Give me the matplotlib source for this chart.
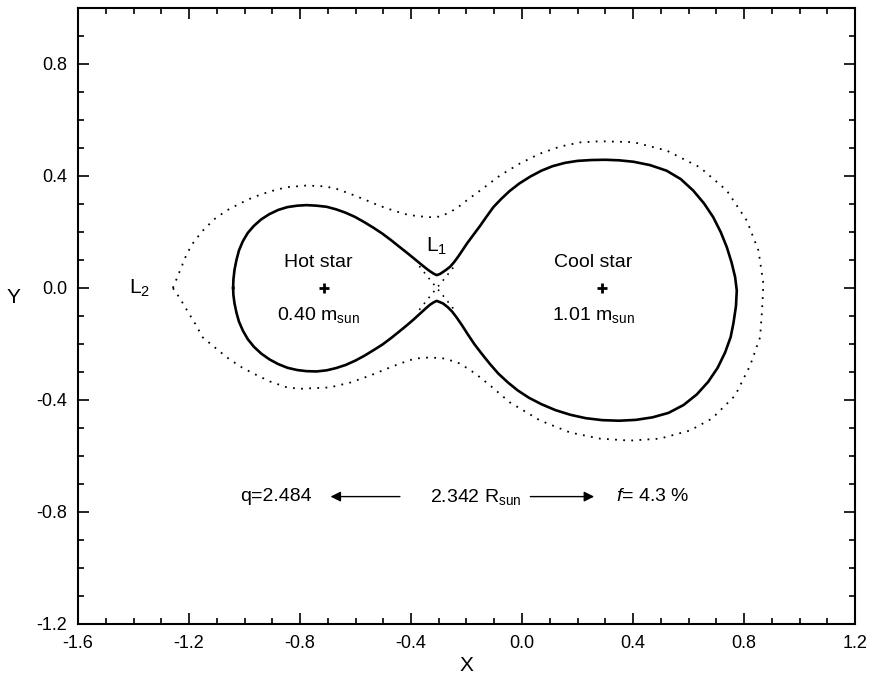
import matplotlib
matplotlib.use("Agg")
import matplotlib.pyplot as plt
from matplotlib.ticker import MultipleLocator, FormatStrFormatter

plt.rcParams['font.family'] = ['Liberation Sans', 'DejaVu Sans']
plt.rcParams['mathtext.fontset'] = 'custom'
plt.rcParams['mathtext.rm'] = 'Liberation Sans'
plt.rcParams['mathtext.it'] = 'Liberation Sans:italic'
plt.rcParams['axes.unicode_minus'] = False

# contact surface (solid)
# hot lobe upper half, left -> L1
hot_up_x = [-1.041, -1.040, -1.036, -1.029, -1.020, -1.006, -0.988, -0.966, -0.940, -0.910,
            -0.878, -0.845, -0.810, -0.776, -0.740, -0.704, -0.670, -0.636, -0.602, -0.568,
            -0.535, -0.503, -0.472, -0.443, -0.416, -0.390, -0.368, -0.348, -0.332, -0.318]
hot_up_y = [0.000, 0.030, 0.065, 0.100, 0.134, 0.167, 0.197, 0.222, 0.245, 0.264,
            0.279, 0.289, 0.294, 0.296, 0.294, 0.290, 0.281, 0.269, 0.254, 0.235,
            0.215, 0.194, 0.171, 0.148, 0.127, 0.106, 0.088, 0.072, 0.060, 0.051]
# cool lobe, L1 -> over the top -> right edge -> bottom -> back to L1
cool_x = [-0.307, -0.296, -0.285, -0.272, -0.259, -0.245, -0.230, -0.215, -0.199, -0.175,
          -0.151, -0.127, -0.103, -0.075, -0.045, -0.010, 0.030, 0.070, 0.110, 0.155,
          0.200, 0.250, 0.300, 0.350, 0.401, 0.461, 0.521, 0.572, 0.617, 0.656,
          0.689, 0.716, 0.738, 0.755, 0.768, 0.774, 0.771, 0.762, 0.752, 0.732,
          0.705, 0.671, 0.630, 0.582, 0.528, 0.470, 0.410, 0.350, 0.290, 0.230,
          0.175, 0.120, 0.070, 0.025, -0.015, -0.050, -0.085, -0.115, -0.145, -0.172,
          -0.195, -0.215, -0.235, -0.252, -0.268, -0.285, -0.307]
cool_y = [0.046, 0.050, 0.057, 0.066, 0.076, 0.092, 0.112, 0.134, 0.158, 0.190,
          0.222, 0.256, 0.289, 0.318, 0.346, 0.373, 0.398, 0.419, 0.435, 0.447,
          0.454, 0.457, 0.458, 0.456, 0.451, 0.439, 0.419, 0.389, 0.348, 0.302,
          0.253, 0.200, 0.146, 0.092, 0.039, -0.009, -0.065, -0.125, -0.175, -0.230,
          -0.285, -0.335, -0.380, -0.418, -0.446, -0.462, -0.471, -0.474, -0.472, -0.465,
          -0.453, -0.436, -0.415, -0.392, -0.366, -0.338, -0.306, -0.272, -0.235, -0.200,
          -0.166, -0.135, -0.106, -0.084, -0.068, -0.055, -0.046]
# hot lobe lower half, L1 -> left
hot_lo_x = [-0.318, -0.332, -0.348, -0.368, -0.390, -0.416, -0.443, -0.472, -0.503, -0.535,
            -0.568, -0.602, -0.636, -0.670, -0.704, -0.740, -0.776, -0.810, -0.845, -0.878,
            -0.910, -0.940, -0.966, -0.988, -1.006, -1.020, -1.029, -1.036, -1.040, -1.041]
hot_lo_y = [-0.051, -0.060, -0.074, -0.092, -0.112, -0.134, -0.156, -0.179, -0.202, -0.222,
            -0.242, -0.260, -0.275, -0.286, -0.294, -0.298, -0.297, -0.293, -0.285, -0.272,
            -0.255, -0.234, -0.210, -0.183, -0.152, -0.120, -0.088, -0.055, -0.025, 0.000]

# outer critical surface through L2 (dotted)
outer_x = [-1.258, -1.232, -1.208, -1.182, -1.150, -1.110, -1.064, -1.016, -0.969, -0.908,
           -0.848, -0.776, -0.710, -0.668, -0.613, -0.560, -0.512, -0.464, -0.422, -0.380,
           -0.332, -0.295, -0.259, -0.231, -0.199, -0.151, -0.079, -0.007, 0.065, 0.137,
           0.209, 0.281, 0.401, 0.521, 0.641, 0.738, 0.810, 0.852, 0.870, 0.865,
           0.858, 0.822, 0.768, 0.685, 0.605, 0.497, 0.389, 0.281, 0.173, 0.065,
           -0.043, -0.115, -0.169, -0.223, -0.277, -0.332, -0.386, -0.440, -0.494, -0.548,
           -0.620, -0.692, -0.800, -0.847, -0.908, -0.969, -1.016, -1.063, -1.106, -1.150,
           -1.178, -1.207, -1.232, -1.258]
outer_y = [0.000, 0.063, 0.122, 0.166, 0.205, 0.245, 0.277, 0.302, 0.324, 0.345,
           0.360, 0.366, 0.363, 0.354, 0.334, 0.313, 0.293, 0.277, 0.264, 0.257,
           0.253, 0.255, 0.271, 0.288, 0.313, 0.348, 0.402, 0.445, 0.480, 0.505,
           0.520, 0.524, 0.521, 0.491, 0.431, 0.348, 0.241, 0.134, 0.015, -0.080,
           -0.176, -0.277, -0.384, -0.466, -0.509, -0.538, -0.545, -0.538, -0.516, -0.473,
           -0.409, -0.348, -0.305, -0.270, -0.252, -0.248, -0.252, -0.270, -0.291, -0.313,
           -0.338, -0.355, -0.360, -0.355, -0.334, -0.305, -0.280, -0.248, -0.213, -0.177,
           -0.127, -0.080, -0.038, 0.000]

# inner critical lobes crossing at L1 (dotted)
l1a_x = [-0.370, -0.340, -0.307, -0.274, -0.244]
l1a_y = [0.078, 0.040, 0.000, -0.040, -0.078]
l1b_x = [-0.370, -0.340, -0.307, -0.274, -0.244]
l1b_y = [-0.078, -0.040, 0.000, 0.040, 0.078]

star_x = [-0.713, 0.287]
star_names = ['Hot star', 'Cool star']
star_mass = ['0.40', '1.01']
l1_pos = (-0.307, 0.0)
l2_pos = (-1.258, 0.0)

q_text = 'q=2.484'
sep_text = '2.342'
fill_text = '4.3 %'

fig = plt.figure(figsize=(8.7, 6.81), dpi=100)
ax = fig.add_axes([78 / 870, 1 - 624 / 681, 777 / 870, 616 / 681])

surf_x = hot_up_x + cool_x + hot_lo_x
surf_y = hot_up_y + cool_y + hot_lo_y
ax.plot(surf_x, surf_y, color='black', lw=1.9, solid_joinstyle='round')
dot = (0, (1, 3.5))
ax.plot(outer_x, outer_y, color='black', lw=1.3, linestyle=dot)
ax.plot(l1a_x, l1a_y, color='black', lw=1.2, linestyle=dot)
ax.plot(l1b_x, l1b_y, color='black', lw=1.2, linestyle=dot)

ax.plot(star_x, [0, 0], '+', color='black', ms=7, mew=2)
for sx, name, m, dx in zip(star_x, star_names, star_mass, [-0.02, -0.03]):
    ax.text(sx + dx, 0.092, name, ha='center', va='center', fontsize=14)
    ax.text(sx + dx, -0.098, m + r' $\mathrm{m_{sun}}$', ha='center', va='center', fontsize=14)

ax.text(l1_pos[0], 0.15, r'$\mathrm{L_1}$', ha='center', va='center', fontsize=15)
ax.text(l2_pos[0] - 0.12, 0.0, r'$\mathrm{L_2}$', ha='center', va='center', fontsize=15)

yb = -0.745
ax.text(-0.886, yb, q_text, ha='center', va='center', fontsize=14)
ax.annotate('', xy=(-0.70, yb), xytext=(-0.43, yb),
            arrowprops=dict(arrowstyle='-|>', color='black', lw=1.0, mutation_scale=15))
ax.text(-0.166, yb, sep_text + r' $\mathrm{R_{sun}}$', ha='center', va='center', fontsize=14)
ax.annotate('', xy=(0.27, yb), xytext=(0.02, yb),
            arrowprops=dict(arrowstyle='-|>', color='black', lw=1.0, mutation_scale=15))
ax.text(0.472, yb, r'$\mathit{f}$= ' + fill_text, ha='center', va='center', fontsize=14)

ax.set_xlim(-1.6, 1.2)
ax.set_ylim(-1.2, 1.0)
ax.xaxis.set_major_locator(MultipleLocator(0.4))
ax.xaxis.set_minor_locator(MultipleLocator(0.1))
ax.yaxis.set_major_locator(MultipleLocator(0.4))
ax.yaxis.set_minor_locator(MultipleLocator(0.1))
ax.xaxis.set_major_formatter(FormatStrFormatter('%.1f'))
ax.yaxis.set_major_formatter(FormatStrFormatter('%.1f'))
ax.tick_params(which='both', direction='in', top=True, right=True, width=1.2, labelsize=13)
ax.tick_params(which='major', length=8, pad=8)
ax.tick_params(which='minor', length=4)
for sp in ax.spines.values():
    sp.set_linewidth(1.5)

ax.set_xlabel('X', fontsize=15, labelpad=3)
ax.set_ylabel('Y', fontsize=15, rotation=0, va='center', ha='center')
ax.yaxis.set_label_coords(-0.083, 0.53)

fig.savefig('out.png', dpi=100)
